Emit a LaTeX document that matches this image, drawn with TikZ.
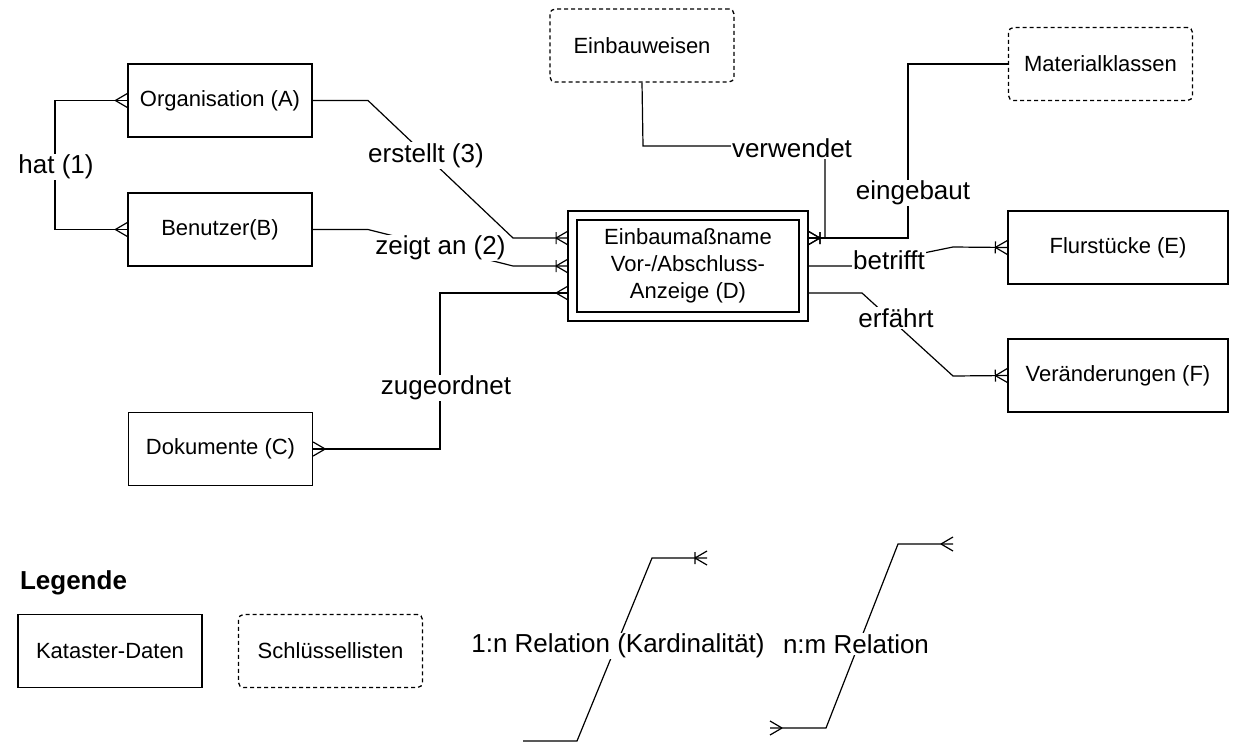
\documentclass[tikz,border=0pt]{standalone}
\usepackage{fontspec}
\setmainfont{Liberation Sans}
\usetikzlibrary{positioning,calc,decorations.markings}

\newcommand{\boxfont}{\fontsize{22}{27}\selectfont}
\newcommand{\edgefont}{\fontsize{26}{30}\selectfont}

\tikzset{
    entity/.style={
        draw,
        line width=1.3pt,
        minimum width=184pt,
        minimum height=73pt,
        font=\boxfont,
        align=center
    },
    keylist/.style={
        entity,
        dash pattern=on 4pt off 3pt,
        rounded corners=5pt
    },
    rel/.style={
        line width=1.2pt
    },
    relLabel/.style={
        fill=white,
        inner sep=1pt,
        font=\edgefont
    },
    manyEnd/.style={
        postaction={decorate, decoration={markings, mark=at position 1 with {
            \draw[rel] (-12pt,0pt) -- (0pt,7pt) (-12pt,0pt) -- (0pt,-7pt);}}}
    },
    manyStart/.style={
        postaction={decorate, decoration={markings, mark=at position 0 with {
            \draw[rel] (12pt,0pt) -- (0pt,7pt) (12pt,0pt) -- (0pt,-7pt);}}}
    },
    oneManyEnd/.style={
        postaction={decorate, decoration={markings, mark=at position 1 with {
            \draw[rel] (-12pt,0pt) -- (0pt,7pt) (-12pt,0pt) -- (0pt,-7pt)
                (-12pt,-6pt) -- (-12pt,6pt);}}}
    }
}

\begin{document}
\begin{tikzpicture}[x=1pt, y=-1pt]
    \useasboundingbox (0,0) rectangle (1238,742);

    % Kataster-Daten
    \node[entity] (A) at (220,100.5) {Organisation (A)};
    \node[entity] (B) at (220,229.5) {Benutzer(B)};
    \node[entity] (C) at (220.5,449) {Dokumente (C)};
    \node[entity, double, double distance=7.5pt, minimum width=231pt,
          minimum height=101pt, outer sep=4.4pt] (D) at (688,266)
          {Einbaumaßname\\Vor-/Abschluss-\\Anzeige (D)};
    \node[entity, minimum width=220pt] (E) at (1118,247.5) {Flurstücke (E)};
    \node[entity, minimum width=220pt] (F) at (1118,375.5) {Veränderungen (F)};

    % Schluessellisten
    \node[keylist] (weisen) at (642,45.5) {Einbauweisen};
    \node[keylist] (material) at (1100.5,64) {Materialklassen};

    % Beziehungen
    \draw[rel, manyStart, manyEnd] (A.west) -- (55,100.5) -- (55,229.5) -- (B.west)
        node[relLabel] (hat) at (56,167) {hat (1)};
    \draw[rel, oneManyEnd] (A.east) -- (368,100.5)
        -- node[relLabel, pos=0.4] (erstellt) {erstellt (3)} (513,238) -- (D.west |- 0,238);
    \draw[rel, oneManyEnd] (B.east) -- (368,229.5)
        -- node[relLabel, pos=0.5] (zeigt) {zeigt an (2)} (513,266) -- (D.west |- 0,266);
    \draw[rel, manyStart, manyEnd] (C.east) -- (440,449) -- (440,293) -- (D.west |- 0,293)
        node[relLabel] (zugeordnet) at (446,388) {zugeordnet};
    \draw[rel, oneManyEnd] (weisen.south) -- (643,146) -- (825,146) -- (825,238) -- (D.east |- 0,238)
        node[relLabel] (verwendet) at (792,148) {verwendet};
    \draw[rel, oneManyEnd] (material.west) -- (908,64) -- (908,238) -- (D.east |- 0,238)
        node[relLabel] (eingebaut) at (913,193) {eingebaut};
    \draw[rel, oneManyEnd] (D.east |- 0,266) -- (860,266) -- (953,247) -- (E.west)
        node[relLabel] (betrifft) at (889,260) {betrifft};
    \draw[rel, oneManyEnd] (D.east |- 0,293) -- (862,293) -- (953,376) -- (F.west)
        node[relLabel] (erfaehrt) at (896,318) {erfährt};

    % Legende
    \node[font=\fontsize{26}{30}\selectfont\bfseries] (legende) at (73.5,583) {Legende};
    \node[entity] (kataster) at (110,651) {Kataster-Daten};
    \node[keylist] (schluessel) at (330.5,651) {Schlüssellisten};

    \coordinate (oneA) at (523,741);
    \coordinate (oneB) at (707,558);
    \draw[rel, oneManyEnd] (oneA) -- (577,741) -- (652,558) -- (oneB)
        node[relLabel] (oneLabel) at (618,646) {1:n Relation (Kardinalität)};

    \coordinate (nmA) at (770,728);
    \coordinate (nmB) at (953,544);
    \draw[rel, manyStart, manyEnd] (nmA) -- (826,728) -- (898,544) -- (nmB)
        node[relLabel] (nmLabel) at (856,644) {n:m Relation};
\end{tikzpicture}
\end{document}
